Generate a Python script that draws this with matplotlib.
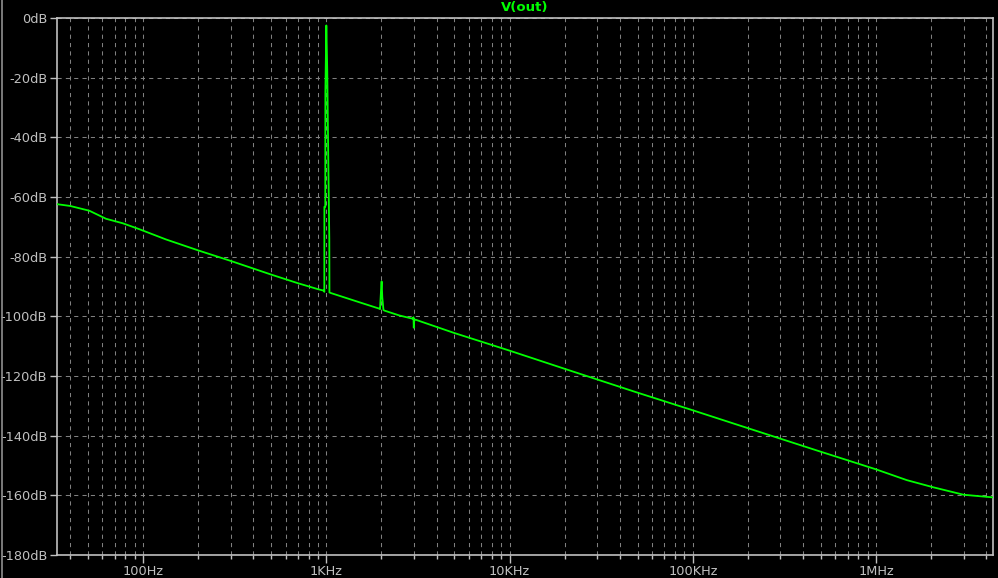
import matplotlib
matplotlib.use("Agg")
import matplotlib.pyplot as plt
from matplotlib.lines import Line2D
from matplotlib.ticker import FixedLocator, NullFormatter

# ---- data ----
freq_hz = [33.9, 40, 50.9, 62.8, 77.4, 95.5, 133, 200, 300, 500, 700, 900, 970,
           975, 976, 987, 988, 1000, 1012, 1025, 1038, 1040, 1060, 1500,
           1940, 1964, 1971, 1990, 2003, 2020, 2050, 2080, 2500,
           2960, 2990, 3000, 3020, 3060, 5000, 10000, 20000, 50000,
           100000, 200000, 500000, 1e6, 1.47e6, 2.05e6, 3.0e6, 3.84e6, 4.35e6]
vout_db = [-62.4, -63.0, -64.6, -67.3, -68.8, -70.8, -74.2, -77.9, -81.4, -86.0, -88.9, -90.9, -91.4,
           -91.8, -63.3, -63.3, -25.0, -2.5, -18.0, -47.6, -74.0, -92.0, -92.2, -95.2,
           -97.4, -97.6, -95.5, -90.9, -88.3, -93.6, -97.9, -98.1, -99.7,
           -100.8, -100.3, -103.8, -101.2, -101.1, -105.6, -111.5, -117.6, -125.6,
           -131.5, -137.5, -145.4, -151.3, -154.9, -157.3, -159.8, -160.4, -160.7]

y_ticks = [0, -20, -40, -60, -80, -100, -120, -140, -160, -180]
y_labels = ["0dB", "-20dB", "-40dB", "-60dB", "-80dB", "-100dB", "-120dB", "-140dB", "-160dB", "-180dB"]
x_ticks = [100, 1e3, 1e4, 1e5, 1e6]
x_labels = ["100Hz", "1KHz", "10KHz", "100KHz", "1MHz"]
title = "V(out)"

# ---- figure ----
W, H = 998, 578
fig = plt.figure(figsize=(W / 100, H / 100), dpi=100, facecolor="black")
left, right, top, bottom = 56.5, 993.3, 18, 555
ax = fig.add_axes([left / W, 1 - bottom / H, (right - left) / W, (bottom - top) / H])
ax.set_facecolor("black")

fg = "#c0c0c0"
grid_c = "#808080"

ax.plot(freq_hz, vout_db, color="#00ff00", lw=1.3, zorder=3)
ax.set_xscale("log")
ax.set_xlim(33.7, 4.36e6)
ax.set_ylim(-180, 0)

ax.set_yticks(y_ticks)
ax.set_yticklabels(y_labels)
ax.xaxis.set_major_locator(FixedLocator(x_ticks))
ax.set_xticklabels(x_labels)
minors = [m * 10 ** d for d in range(1, 7) for m in range(2, 10)]
ax.xaxis.set_minor_locator(FixedLocator(minors))
ax.xaxis.set_minor_formatter(NullFormatter())
ax.yaxis.set_minor_locator(FixedLocator([]))

for s in ax.spines.values():
    s.set_color(fg)
    s.set_linewidth(1.2)

ax.tick_params(axis="both", which="both", colors=fg, labelcolor=fg, labelsize=9.3, direction="out")
ax.tick_params(axis="y", which="major", length=5.2, width=1, pad=1.5)
ax.tick_params(axis="x", which="major", length=5.4, width=1, pad=1.5)
ax.tick_params(axis="x", which="minor", length=2.9, width=1)

ax.grid(True, which="both", axis="x", color=grid_c, linestyle=(0, (4, 4)), lw=0.75)
ax.grid(True, which="major", axis="y", color=grid_c, linestyle=(0, (4, 4)), lw=0.75)

fig.text((left + right) / 2 / W, 1 - 8 / H, title, color="#00ff00", fontsize=9.5,
         ha="center", va="center", fontweight="bold")

# window border on the far left
fig.add_artist(Line2D([1.5 / W, 1.5 / W], [0, 1], transform=fig.transFigure, color="#909090", lw=1.2))

fig.savefig("out.png", dpi=100, facecolor="black")
